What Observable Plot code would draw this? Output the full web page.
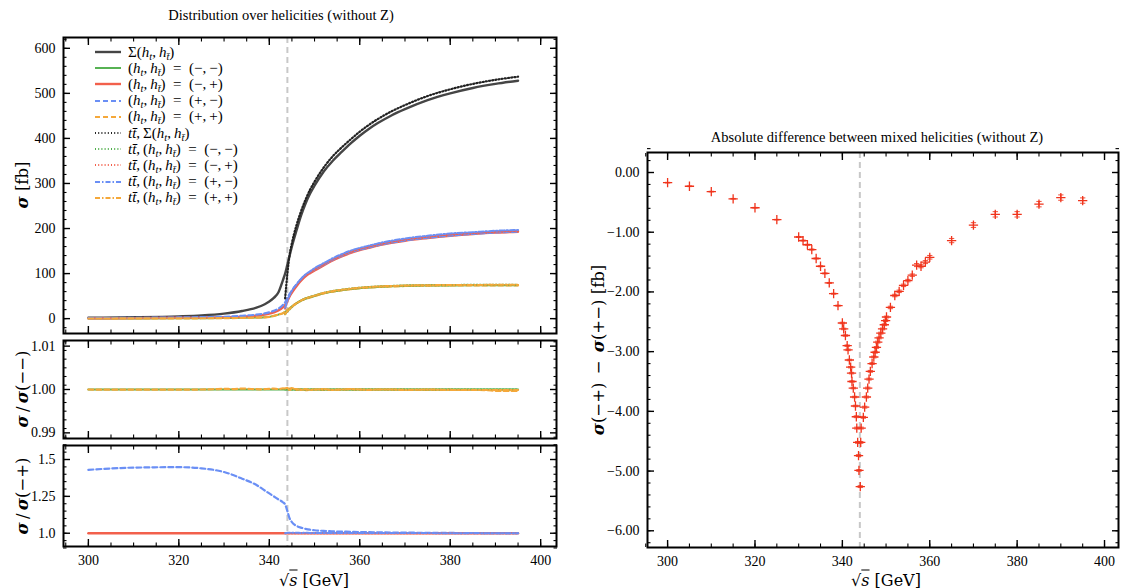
<!DOCTYPE html>
<html><head><meta charset="utf-8">
<script src="https://cdn.jsdelivr.net/npm/d3@7"></script>
<script src="https://cdn.jsdelivr.net/npm/@observablehq/plot@0.6"></script>
<style>
body{margin:0;background:#fff;}
#root{position:relative;width:1122px;height:588px;overflow:hidden;font-family:"Liberation Serif",serif;color:#000;background:#fff;}
.abs{position:absolute;white-space:nowrap;}
.title{font-size:14.5px;transform:translate(-50%,-50%);}
.ylab{font-family:"DejaVu Serif",serif;font-size:16.5px;transform:translate(-50%,-50%) rotate(-90deg);}
.xlab{font-family:"DejaVu Serif",serif;font-size:16px;transform:translate(-50%,-50%);}
sub{font-size:70%;vertical-align:-0.3em;line-height:0;}
.leg{font-size:15px;display:flex;align-items:center;}
.leg svg{margin-right:7px;}
</style></head><body><div id="root"></div>
<script>
// ---------- data ----------
const threshold = 344;
const sqrtS = [300,310,320,325,330,334,337,339,340,341,342,343,343.5,344,344.5,345,346,347,348,349,350,352,354,356,358,360,362,364,367,370,375,380,385,390,395];
const sigmaSum = [2,3,5,7,11,17,24,32,38,46,58,85,100,120,140,160,195,228,255,277,295,326,350,370,389,406,421,434,451,465,485,500,512,521,528];
const sigmaMM = [0.3,0.4,0.6,0.8,1.1,1.6,2.3,3,4,6,9,12,15,19,23,27,34,40,44,47,50,56,60,63,65.5,67.5,69,70.3,71.5,72.5,73.3,73.7,74,74,74];
const sigmaMP = [0.8,1.2,1.8,2.3,3,4.5,6.5,9,11,14,18,25,30,40,50,58,72,84,94,101,107,118,129,138,146,152,157,162,168,173,179,184,188,191,193];
const sigmaPM = [1.14,1.73,2.6,3.3,4.2,6.2,8.6,11.6,14,17.5,22.1,30.3,35.9,46,55,62.4,75.6,87.2,96.8,103.4,109.1,119.9,130.7,139.5,147.5,153.2,158.1,163,168.8,173.7,179.5,184.4,188.2,191.2,193];
const sigmaPP = [0.3,0.4,0.6,0.8,1.1,1.6,2.3,3,4,6,9,12,15,19,23,27,34,40,44,47,50,56,60,63,65.5,67.5,69,70.3,71.5,72.5,73.3,73.7,74,74,74];

const sqrtSTT = [343.5,344,344.5,345,346,347,348,349,350,352,354,356,358,360,362,364,367,370,375,380,385,390,395];
const ttSum = [45,100,142,168,207,238,264,286,304,335,360,380,398,415,430,443,460,474,494,509,521,530,537];
const ttMM = [10,16,21,26,34,40,45,48,51,57,61,64,66.5,68.5,70,71.3,72.5,73.5,74.2,74.6,74.8,75,75];
const ttMP = [22,38,50,60,74,86,96,103,110,121,132,141,149,155,160,165,171,176,182,187,190,193,195];
const ttPM = [24,40,52,62,76,88,98,105,112,123,134,143,151,157,162,167,173,178,184,189,192,195,197];
const ttPP = [10,16,21,26,34,40,45,48,51,57,61,64,66.5,68.5,70,71.3,72.5,73.5,74.2,74.6,74.8,75,75];

// ratio panels
const ratioX = [300,305,310,315,320,325,328,330,332,334,336,338,340,341,342,343,344,345,346,347,348,350,352,355,358,360,365,370,375,380,385,388,390,393,395];
const ratioPPoverMM = [1.0000,0.99995,0.99998,0.99995,0.99997,1.0000,1.00008,1.00015,1.0001,1.0002,1.00012,1.00005,1.00015,1.0002,1.0001,1.00025,1.00015,1.0003,0.9999,1.0001,0.99985,1.0000,0.9999,0.99995,1.0000,0.99995,1.0000,0.99995,0.9999,0.99995,0.9999,0.99985,0.9997,0.99965,0.9997];
const ratioTTPPoverMM = [1.0002,1.0004,0.9998,1.0002,1.0001,0.9999,1.0001,0.9999,1.0,1.0001,0.9999,1.0,1.0001,1.0,0.9999,1.0,1.0,0.9999,1.0,0.9999,0.9999,0.9999,0.9999];
const ratioPMoverMP = [1.43,1.445,1.448,1.44,1.415,1.37,1.33,1.29,1.27,1.25,1.23,1.21,1.195,1.15,1.10,1.075,1.05,1.038,1.03,1.024,1.02,1.016,1.013,1.011,1.01,1.008,1.007,1.006,1.005,1.004,1.003,1.002,1.001,1.001,1.0];
const ratioTTPMoverMP = [1.0,1.004,1.004,1.003,1.003,1.002,1.003,1.002,1.002,1.002,1.001,1.002,1.001,1.001,1.002,1.001,1.001,1.001,1.001,1.0,1.001,1.0,1.0];

// right panel: sigma(-+) - sigma(+-)
const diffX = [300,305,310,315,320,325,330,331,332,333,334,335,336,337,338,339,
  340.0,340.3,340.7,341.1,341.3,341.6,341.9,342.1,342.2,342.5,342.8,343.0,343.2,343.3,343.5,343.7,343.8,344.1,
  344.2,344.3,344.8,345.1,345.5,345.8,346.1,346.4,346.8,347.2,347.5,347.8,348.1,348.4,348.8,349.2,349.6,349.9,350.1,351.0,
  352,353,354,355,356,357,358,359,360,365,370,375,380,385,390,395];
const diffY = [-0.17,-0.23,-0.32,-0.44,-0.59,-0.79,-1.08,-1.14,-1.21,-1.29,-1.44,-1.57,-1.69,-1.85,-2.03,-2.23,
  -2.52,-2.62,-2.73,-2.90,-2.97,-3.14,-3.26,-3.36,-3.50,-3.61,-3.76,-3.91,-4.09,-4.28,-4.52,-4.74,-4.99,-5.26,
  -4.52,-4.28,-4.10,-3.93,-3.76,-3.61,-3.46,-3.33,-3.20,-3.09,-3.01,-2.93,-2.84,-2.77,-2.69,-2.62,-2.55,-2.48,-2.42,-2.26,
  -2.06,-1.99,-1.89,-1.81,-1.72,-1.55,-1.57,-1.50,-1.42,-1.14,-0.88,-0.70,-0.70,-0.53,-0.42,-0.47];
const diffErr = [0.005,0.005,0.005,0.005,0.005,0.005,0.008,0.008,0.008,0.008,0.008,0.008,0.008,0.008,0.008,0.008,
  0.012,0.012,0.012,0.012,0.012,0.012,0.012,0.012,0.012,0.012,0.012,0.012,0.015,0.015,0.015,0.015,0.015,0.015,
  0.015,0.015,0.015,0.015,0.015,0.015,0.015,0.015,0.015,0.015,0.015,0.015,0.015,0.015,0.015,0.015,0.015,0.015,0.015,0.02,
  0.02,0.02,0.02,0.02,0.02,0.025,0.025,0.025,0.03,0.035,0.04,0.045,0.045,0.045,0.045,0.045];

// ticks
const xMajor = [300,320,340,360,380,400];
const xMinor = d3.range(295,405,5);
const yTopMajor = [0,100,200,300,400,500,600];
const yTopMinor = d3.range(-20,625,20);
const yMidMajor = [0.99,1.00,1.01];
const yMidMinor = d3.range(0,12).map(i=>0.989+i*0.002);
const yBotMajor = [1.0,1.25,1.5];
const yBotLabels = ["1.0","1.25","1.5"];
const yBotMinor = d3.range(0,15).map(i=>0.9+i*0.05);
const yRightMajor = [-6,-5,-4,-3,-2,-1,0];
const yRightMinor = d3.range(0,34).map(i=>-6.2+i*0.2);

// ---------- style ----------
const C = {sum:"#454545", mm:"#4fae4a", mp:"#f2604c", pm:"#6a8ff5", pp:"#f5a83a", pts:"#f0341c", thr:"#c8c8c8"};
const DASH = "5,3", DOT = "1,2.2", DASHDOT = "5,2,1.5,2";
const root = document.getElementById("root");
const baseStyle = {fontFamily:'"Liberation Serif", serif', fontSize:"14px", background:"transparent", color:"#000", overflow:"visible"};

function place(svg, left, top){ svg.style.position="absolute"; svg.style.left=left+"px"; svg.style.top=top+"px"; root.appendChild(svg); }

function box({xMaj, xMin, yMaj, yMin, xLabels=false, yFmt}) {
  const m = [];
  for (const a of ["top","bottom"]) {
    m.push(Plot.axisX({anchor:a, ticks:xMaj, tickSize:-7, tickFormat:()=>"", label:null, strokeWidth:1.4}));
    m.push(Plot.axisX({anchor:a, ticks:xMin, tickSize:-3.5, tickFormat:()=>"", label:null, strokeWidth:1.1}));
  }
  for (const a of ["left","right"]) {
    m.push(Plot.axisY({anchor:a, ticks:yMaj, tickSize:-7, tickFormat:()=>"", label:null, strokeWidth:1.4}));
    m.push(Plot.axisY({anchor:a, ticks:yMin, tickSize:-3.5, tickFormat:()=>"", label:null, strokeWidth:1.1}));
  }
  m.push(Plot.axisY({anchor:"left", ticks:yMaj, tickSize:0, tickPadding:8, tickFormat:yFmt, label:null}));
  if (xLabels) m.push(Plot.axisX({anchor:"bottom", ticks:xMaj, tickSize:0, tickPadding:9, tickFormat:d=>String(d), label:null}));
  m.push(Plot.frame({stroke:"#000", strokeWidth:2}));
  return m;
}
const thrRule = () => Plot.ruleX([threshold], {stroke:C.thr, strokeWidth:2, strokeDasharray:"6,4"});
const L = (xs, ys, stroke, dash, w=1.9) => Plot.line(xs, {x: xs, y: ys, stroke, strokeWidth:w, strokeDasharray:dash, curve:"monotone-x", clip:true});

const xDomLeft = [294.5, 403.5];

// ---------- top-left ----------
place(Plot.plot({
  width:560, height:316, marginLeft:63, marginRight:4, marginTop:10, marginBottom:10,
  x:{domain:xDomLeft}, y:{domain:[-33,624]}, style:baseStyle,
  marks:[
    thrRule(),
    L(sqrtS, sigmaSum, C.sum, null, 2.4),
    L(sqrtS, sigmaMM, C.mm, null, 1.9),
    L(sqrtS, sigmaMP, C.mp, null, 2.4),
    L(sqrtS, sigmaPM, C.pm, DASH, 2.2),
    L(sqrtS, sigmaPP, C.pp, DASH, 2.2),
    L(sqrtSTT, ttSum, "#222", DOT, 2.2),
    L(sqrtSTT, ttMM, C.mm, DOT, 2.2),
    L(sqrtSTT, ttMP, C.mp, DOT, 2.2),
    L(sqrtSTT, ttPM, C.pm, DASHDOT, 2),
    L(sqrtSTT, ttPP, C.pp, DASHDOT, 2),
    ...box({xMaj:xMajor, xMin:xMinor, yMaj:yTopMajor, yMin:yTopMinor, yFmt:d=>String(d)})
  ]
}), 0, 27);

// ---------- middle-left ----------
place(Plot.plot({
  width:560, height:118, marginLeft:63, marginRight:4, marginTop:10, marginBottom:10,
  x:{domain:xDomLeft}, y:{domain:[0.9887,1.0113]}, style:baseStyle,
  marks:[
    thrRule(),
    L(sqrtS, sigmaMM.map((v,i)=>v/sigmaMM[i]), C.mm, null, 2.2),
    L(ratioX, ratioPPoverMM, C.pp, DASH, 2.2),
    L(sqrtSTT, ttMM.map((v,i)=>v/ttMM[i]), C.mm, DOT, 2.2),
    L(sqrtSTT, ratioTTPPoverMM, C.pp, DASHDOT, 2),
    ...box({xMaj:xMajor, xMin:xMinor, yMaj:yMidMajor, yMin:yMidMinor, yFmt:d=>d.toFixed(2)})
  ]
}), 0, 330);

// ---------- bottom-left ----------
place(Plot.plot({
  width:560, height:153, marginLeft:63, marginRight:4, marginTop:10, marginBottom:42,
  x:{domain:xDomLeft}, y:{domain:[0.91,1.595]}, style:baseStyle,
  marks:[
    thrRule(),
    L(sqrtS, sigmaMP.map((v,i)=>v/sigmaMP[i]), C.mp, null, 2.4),
    L(sqrtS, ratioPMoverMP, C.pm, DASH, 2.2),
    L(sqrtSTT, ttMP.map((v,i)=>v/ttMP[i]), C.mp, DOT, 2.2),
    L(sqrtSTT, ratioTTPMoverMP, C.pm, DASHDOT, 2),
    ...box({xMaj:xMajor, xMin:xMinor, yMaj:yBotMajor, yMin:yBotMinor, xLabels:true, yFmt:d=>yBotLabels[yBotMajor.indexOf(d)]})
  ]
}), 0, 435);

// ---------- right ----------
const idx = diffX.map((_,i)=>i);
const capSym = {draw(ctx, size){ const r = Math.sqrt(size)/2; ctx.moveTo(-r,0); ctx.lineTo(r,0); }};
place(Plot.plot({
  width:562, height:446, marginLeft:87, marginRight:4, marginTop:10, marginBottom:41,
  x:{domain:[295.4,403.2]}, y:{domain:[-6.28,0.335]}, style:baseStyle,
  marks:[
    thrRule(),
    Plot.ruleX(idx, {x:i=>diffX[i], y1:i=>diffY[i]-diffErr[i], y2:i=>diffY[i]+diffErr[i], stroke:C.pts, strokeWidth:1.2}),
    Plot.dot(idx, {x:i=>diffX[i], y:i=>diffY[i]-diffErr[i], symbol:capSym, r:3, stroke:C.pts, strokeWidth:1.1, fill:"none", strokeOpacity:0.8}),
    Plot.dot(idx, {x:i=>diffX[i], y:i=>diffY[i]+diffErr[i], symbol:capSym, r:3, stroke:C.pts, strokeWidth:1.1, fill:"none", strokeOpacity:0.8}),
    Plot.dot(idx, {x:i=>diffX[i], y:i=>diffY[i], symbol:"plus", r:3.1, stroke:C.pts, strokeWidth:1.3, fill:"none"}),
    ...box({xMaj:xMajor, xMin:xMinor, yMaj:yRightMajor, yMin:yRightMinor, xLabels:true, yFmt:d=>(d<0?"\u2212":"")+Math.abs(d).toFixed(2)})
  ]
}), 560, 142);

// ---------- text overlays ----------
function addText(cls, html, x, y){ const d=document.createElement("div"); d.className="abs "+cls; d.innerHTML=html; d.style.left=x+"px"; d.style.top=y+"px"; root.appendChild(d); return d; }
const S = '<b><i>σ</i></b>';
addText("title", "Distribution over helicities (without Z)", 281, 15);
addText("title", "Absolute difference between mixed helicities (without Z)", 877, 137);
addText("ylab", S+" [fb]", 22, 185);
addText("ylab", S+"&thinsp;/&thinsp;"+S+"(−−)", 22, 389);
addText("ylab", S+"&thinsp;/&thinsp;"+S+"(−+)", 22, 496);
addText("ylab", S+"(−+)&ensp;−&ensp;"+S+"(+−) [fb]", 598, 350);
const sq = '√<span style="text-decoration:overline"><i>s</i></span> [GeV]';
addText("xlab", sq, 314, 580);
addText("xlab", sq, 886, 580);

// legend
const hh = '(<i>h</i><sub><i>t</i></sub>,&thinsp;<i>h</i><sub><i>t\u0304</i></sub>)';
const tt = '<i>t</i><i>t\u0304</i>';
const EQ = '&ensp;=&ensp;';
const legendLabels = ['Σ'+hh, hh+EQ+'(−,&thinsp;−)', hh+EQ+'(−,&thinsp;+)', hh+EQ+'(+,&thinsp;−)', hh+EQ+'(+,&thinsp;+)',
  tt+',&thinsp;Σ'+hh, tt+',&thinsp;'+hh+EQ+'(−,&thinsp;−)', tt+',&thinsp;'+hh+EQ+'(−,&thinsp;+)', tt+',&thinsp;'+hh+EQ+'(+,&thinsp;−)', tt+',&thinsp;'+hh+EQ+'(+,&thinsp;+)'];
const legendStyles = [[C.sum,null,2.4],[C.mm,null,1.9],[C.mp,null,2.4],[C.pm,DASH,2.2],[C.pp,DASH,2.2],
  ["#222",DOT,2.2],[C.mm,DOT,2.2],[C.mp,DOT,2.2],[C.pm,DASHDOT,2],[C.pp,DASHDOT,2]];
const leg = document.createElement("div");
leg.className="abs"; leg.style.left="95px"; leg.style.top="44px";
legendLabels.forEach((lab,i)=>{
  const [c,dash,w] = legendStyles[i];
  const row = document.createElement("div"); row.className="leg";
  row.innerHTML = `<svg width="26" height="8"><line x1="0" y1="4" x2="26" y2="4" stroke="${c}" stroke-width="${w}" ${dash?`stroke-dasharray="${dash}"`:""}/></svg><span>${lab}</span>`;
  row.style.height="16.2px";
  leg.appendChild(row);
});
root.appendChild(leg);
</script></body></html>
